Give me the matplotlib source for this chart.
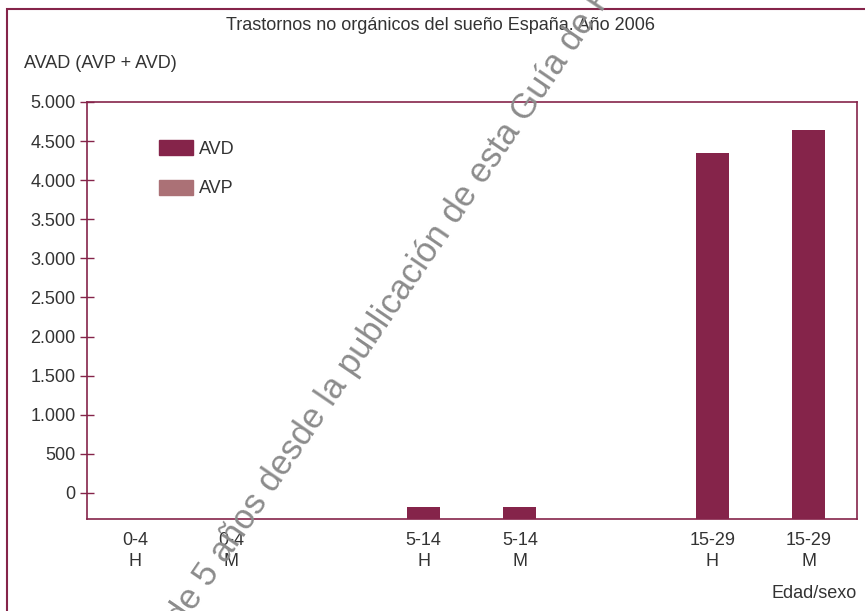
import matplotlib
matplotlib.use("Agg")
import matplotlib.pyplot as plt
from matplotlib import font_manager
from matplotlib.patches import Patch, Rectangle

# data
grupos = ["0-4\nH", "0-4\nM", "5-14\nH", "5-14\nM", "15-29\nH", "15-29\nM"]
posiciones = [0, 1, 3, 4, 6, 7]
avd = [None, None, -180, -180, 4350, 4645]   # bar tops as read on the axis
avp = [None, None, None, None, None, None]
yticks = [0, 500, 1000, 1500, 2000, 2500, 3000, 3500, 4000, 4500, 5000]
ylabels = ["0", "500", "1.000", "1.500", "2.000", "2.500", "3.000",
           "3.500", "4.000", "4.500", "5.000"]
y_min, y_max = -337, 5000

granate = "#85244a"
rosa = "#ab7176"
texto = "#333333"

names = {f.name for f in font_manager.fontManager.ttflist}
if "Liberation Sans Narrow" in names:
    fuente, fs = "Liberation Sans Narrow", 15
else:
    fuente, fs = "Liberation Sans", 13
plt.rcParams["font.family"] = [fuente, "DejaVu Sans"]

W, H = 865, 611
fig = plt.figure(figsize=(W / 100, H / 100), dpi=100)

def fx(px):
    return px / W

def fy(py):
    return 1 - py / H

# outer frame (open at the bottom and right, it goes past the picture)
fig.patches.append(Rectangle((fx(7), fy(640)), fx(872) - fx(7), fy(9) - fy(640),
                             transform=fig.transFigure, fill=False,
                             edgecolor=granate, lw=1.5))

ax = fig.add_axes([fx(86.7), fy(519.3), fx(856.7) - fx(86.7), fy(102) - fy(519.3)])

# bars start at the bottom of the axis
for x, v in zip(posiciones, avd):
    if v is not None:
        ax.bar(x, v - y_min, bottom=y_min, width=0.34, color=granate)
for x, v in zip(posiciones, avp):
    if v is not None:
        ax.bar(x, v - y_min, bottom=y_min, width=0.34, color=rosa)

ax.set_xlim(-0.5, 7.5)
ax.set_ylim(y_min, y_max)
ax.set_yticks(yticks)
ax.set_yticklabels(ylabels)
ax.set_xticks(posiciones)
ax.set_xticklabels(grupos, linespacing=1.35)
ax.tick_params(axis="y", direction="inout", length=10, width=1, color=granate,
               labelsize=fs, labelcolor=texto, pad=3)
ax.tick_params(axis="x", length=0, labelsize=fs, labelcolor=texto, pad=9)
for s in ax.spines.values():
    s.set_color(granate)
    s.set_linewidth(1.2)

handles = [Patch(color=granate, label="AVD"), Patch(color=rosa, label="AVP")]
leg = ax.legend(handles=handles, loc="upper left", frameon=False,
                bbox_to_anchor=(fx(143), fy(124)), bbox_transform=fig.transFigure,
                fontsize=fs, handlelength=1.85, handleheight=0.9,
                labelspacing=1.2, handletextpad=0.35)
for t in leg.get_texts():
    t.set_color(texto)

fig.text(fx(440), fy(26), "Trastornos no orgánicos del sueño España. Año 2006",
         ha="center", va="center", fontsize=fs, color=texto)
fig.text(fx(24), fy(64), "AVAD (AVP + AVD)", ha="left", va="center",
         fontsize=fs, color=texto)
fig.text(fx(857), fy(593), "Edad/sexo", ha="right", va="center",
         fontsize=fs, color=texto)

# diagonal watermark across the chart
fig.text(fx(182), fy(628), "de 5 años desde la publicación de esta Guía de Práctica",
         rotation=55.7, rotation_mode="anchor", ha="left", va="baseline",
         fontsize=25, color="#8c8c8c", family="Liberation Sans", zorder=10)

fig.savefig("out.png", dpi=100)
